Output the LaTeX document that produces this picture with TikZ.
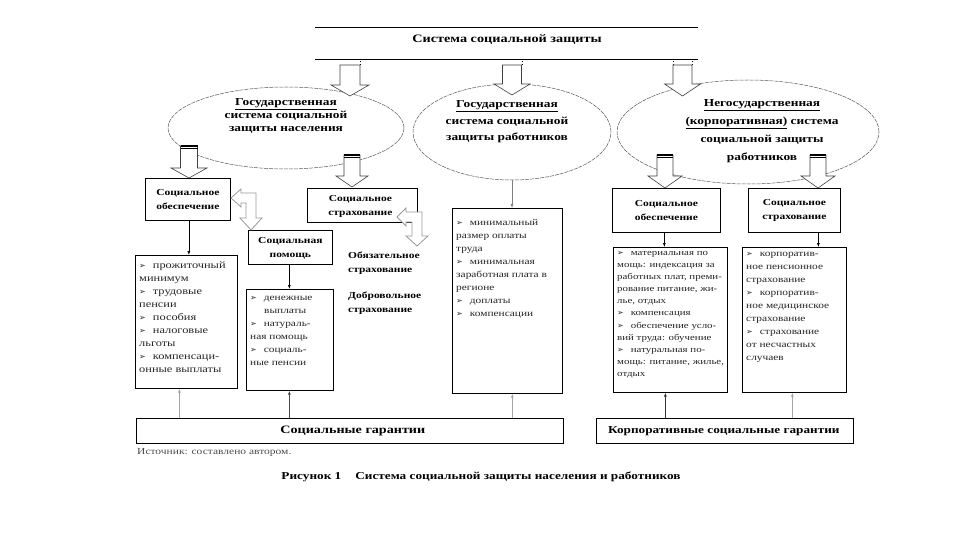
\documentclass[tikz,border=0pt]{standalone}
\usepackage{fontspec}
\setmainfont{Liberation Serif}[FakeStretch=1.25]
\newfontfamily\dvfont{DejaVu Sans}
\usetikzlibrary{shapes.geometric,arrows.meta}
\newcommand{\bul}{{\dvfont\fontsize{8}{8}\selectfont ➢}\hspace{7pt}}
\newcommand{\bdarr}[7][]{%
  \draw[barrow,#1] ({#2-#6},#3) -- ({#2-#6},#4) -- ({#2-#7},#4) -- (#2,#5) -- ({#2+#7},#4) -- ({#2+#6},#4) -- ({#2+#6},#3) -- cycle;}
\newcommand{\topbar}[3]{%
  \draw[line width=1.6pt] ({#1-#3},#2) -- ({#1+#3},#2);
  \draw[line width=0.5pt] ({#1-#3},{#2+2.5}) -- ({#1+#3},{#2+2.5});}
\begin{document}
\begin{tikzpicture}[x=1pt,y=-1pt,
  box/.style={draw, line width=0.7pt, fill=white, inner sep=0pt, anchor=north west},
  hdr/.style={font=\bfseries\fontsize{9.2}{14}\selectfont, align=center, inner sep=0pt},
  lst/.style={font=\fontsize{9.1}{13}\selectfont, align=left, anchor=north west, inner sep=0pt, text=black!85},
  ell/.style={ellipse, draw=black!65, dash pattern=on 4pt off 1pt, line width=0.5pt, inner sep=0pt},
  etext/.style={font=\bfseries\fontsize{10.7}{12.8}\selectfont, align=center, inner sep=0pt},
  barrow/.style={draw=black!75, fill=white, line width=0.6pt},
  gbarrow/.style={draw=black!40, fill=white, line width=0.8pt},
  conn/.style={-{Latex[length=4pt,width=3pt]}, line width=0.6pt},
  gconn/.style={conn, draw=black!35}
]
\useasboundingbox (0,0) rectangle (960,540);
\fill[white] (0,0) rectangle (960,540);

% title
\draw[line width=0.8pt] (315,27) -- (698,27);
\draw[line width=0.8pt] (315,59) -- (698,59);
\node[font=\bfseries\fontsize{11.4}{14}\selectfont, inner sep=0pt] (title) at (507,40) {Система социальной защиты};

% ellipses
\node[ell, minimum width=236, minimum height=82] (e1) at (286,128) {};
\node[ell, minimum width=198, minimum height=96] (e2) at (512,132) {};
\node[ell, minimum width=262, minimum height=104] (e3) at (748,132) {};

% top block arrows
\draw[dotted] (360,59) -- (360,65);
\draw[dotted] (522,59) -- (522,65);
\draw[dotted] (673,59) -- (673,65);
\draw[dotted] (692,59) -- (692,65);
\bdarr{350}{65}{85}{96}{10}{19}
\bdarr{512}{65}{84}{95}{9.5}{18}
\bdarr{682.5}{65}{84}{96}{9.5}{18}

\node[etext] (e1t) at (286,116) {\underline{Государственная}\\система социальной\\защиты населения};
\node[etext, font=\bfseries\fontsize{10.7}{16.5}\selectfont] (e2t) at (507,122) {\underline{Государственная}\\система социальной\\защиты работников};
\node[etext, font=\bfseries\fontsize{10.7}{18}\selectfont] (e3t) at (762,131) {\underline{Негосударственная}\\\underline{(корпоративная)} система\\социальной защиты\\работников};

% boxes level 2
\node[box, minimum width=85, minimum height=42] (so1) at (145,178) {};
\node[hdr] at (so1.center) {Социальное\\обеспечение};
\node[box, minimum width=110, minimum height=34] (ss1) at (307,188) {};
\node[hdr] at ([xshift=-2pt,yshift=-1pt]ss1.center) {Социальное\\страхование};
\node[box, minimum width=108, minimum height=44] (so2) at (612,188) {};
\node[hdr] at (so2.center) {Социальное\\обеспечение};
\node[box, minimum width=92, minimum height=44] (ss2) at (748,188) {};
\node[hdr] at (ss2.center) {Социальное\\страхование};

% ellipse block arrows
\bdarr{189}{146}{168}{178}{8.5}{18}\topbar{189}{146}{8.5}
\bdarr{352}{155}{176}{187}{8}{16}\topbar{352}{155}{8}
\bdarr{665}{155}{176}{188}{8}{17}\topbar{665}{155}{8}
\bdarr{818}{155}{176}{188}{8}{17}\topbar{818}{155}{8}

% social help box
\node[box, minimum width=84, minimum height=34] (sp) at (248,230) {};
\node[hdr] at ([yshift=-1pt]sp.center) {Социальная\\помощь};

% bent arrows
\draw[gbarrow] (231,198) -- (241,189) -- (241,193) -- (256,193) -- (256,218) -- (262,218) -- (251,230) -- (240,218) -- (246,218) -- (246,203) -- (241,203) -- (241,207) -- cycle;
\draw[gbarrow] (397,217) -- (406,208) -- (406,212) -- (422,212) -- (422,236) -- (428,236) -- (417,246) -- (406,236) -- (412,236) -- (412,222) -- (406,222) -- (406,226) -- cycle;

% insurance types
\node[font=\bfseries\fontsize{9.2}{14}\selectfont, align=left, anchor=north west, inner sep=0pt] (ob) at (348,252) {Обязательное\\страхование};
\node[font=\bfseries\fontsize{9.2}{14}\selectfont, align=left, anchor=north west, inner sep=0pt] (db) at (348,292) {Добровольное\\страхование};

% list boxes
\node[box, minimum width=102, minimum height=133] (l1) at (135,255) {};
\node[lst, font=\fontsize{9.9}{13}\selectfont] at (139,262) {\bul прожиточный\\минимум\\\bul трудовые\\пенсии\\\bul пособия\\\bul налоговые\\льготы\\\bul компенсаци-\\онные выплаты};
\node[box, minimum width=87, minimum height=101] (l2) at (246,289) {};
\node[lst] at (250,296) {\bul денежные\\\hspace{14pt}выплаты\\\bul натураль-\\ная помощь\\\bul социаль-\\ные пенсии};
\node[box, minimum width=110, minimum height=185] (l3) at (452,208) {};
\node[lst] at (456,219) {\bul минимальный\\размер оплаты\\труда\\\bul минимальная\\заработная плата в\\регионе\\\bul доплаты\\\bul компенсации};
\node[box, minimum width=114, minimum height=145] (l4) at (613,247) {};
\node[lst, font=\fontsize{8.7}{12.1}\selectfont] at (617,251) {\bul материальная по\\мощь: индексация за\\работных плат, преми-\\рование питание, жи-\\лье, отдых\\\bul компенсация\\\bul обеспечение усло-\\вий труда: обучение\\\bul натуральная по-\\мощь: питание, жилье,\\отдых};
\node[box, minimum width=104, minimum height=145] (l5) at (742,247) {};
\node[lst] at (746,252) {\bul корпоратив-\\ное пенсионное\\страхование\\\bul корпоратив-\\ное медицинское\\страхование\\\bul страхование\\от несчастных\\случаев};

% connectors down
\draw[conn] ([xshift=1pt]so1.south) -- ([xshift=1pt]so1.south |- l1.north);
\draw[conn] ([xshift=-1pt]sp.south) -- ([xshift=-1pt]sp.south |- l2.north);
\draw[conn, draw=black!50] (e2.south) -- (e2.south |- l3.north);
\draw[conn] ([xshift=-2pt]so2.south) -- ([xshift=-2pt]so2.south |- l4.north);
\draw[conn] ([xshift=24pt]l5.north |- ss2.south) -- ([xshift=24pt]l5.north);

% guarantees
\node[box, minimum width=427, minimum height=25] (sg) at (136,418) {};
\node[font=\bfseries\fontsize{11.3}{14}\selectfont, inner sep=0pt] at ([xshift=3pt]sg.center) {Социальные гарантии};
\node[box, minimum width=257, minimum height=25] (kg) at (596,418) {};
\node[font=\bfseries\fontsize{10.6}{14}\selectfont, inner sep=0pt] at ([xshift=-1pt]kg.center) {Корпоративные социальные гарантии};

\draw[gconn] ([xshift=-7pt]l1.south |- sg.north) -- ([xshift=-7pt]l1.south);
\draw[conn, draw=black!70] ([xshift=-0.5pt]l2.south |- sg.north) -- ([xshift=-0.5pt]l2.south);
\draw[gconn] ([xshift=5pt]l3.south |- sg.north) -- ([xshift=5pt]l3.south);
\draw[conn, draw=black!80] ([xshift=-5pt]l4.south |- kg.north) -- ([xshift=-5pt]l4.south);
\draw[gconn] ([xshift=-2pt]l5.south |- kg.north) -- ([xshift=-2pt]l5.south);

% captions
\node[font=\fontsize{9.2}{12}\selectfont, text=black!70, anchor=west, inner sep=0pt] (src) at (137,452) {Источник: составлено автором.};
\node[font=\bfseries\fontsize{10.6}{12}\selectfont, inner sep=0pt] (cap) at (481,477) {Рисунок 1\hspace{14pt}Система социальной защиты населения и работников};
\end{tikzpicture}
\end{document}
